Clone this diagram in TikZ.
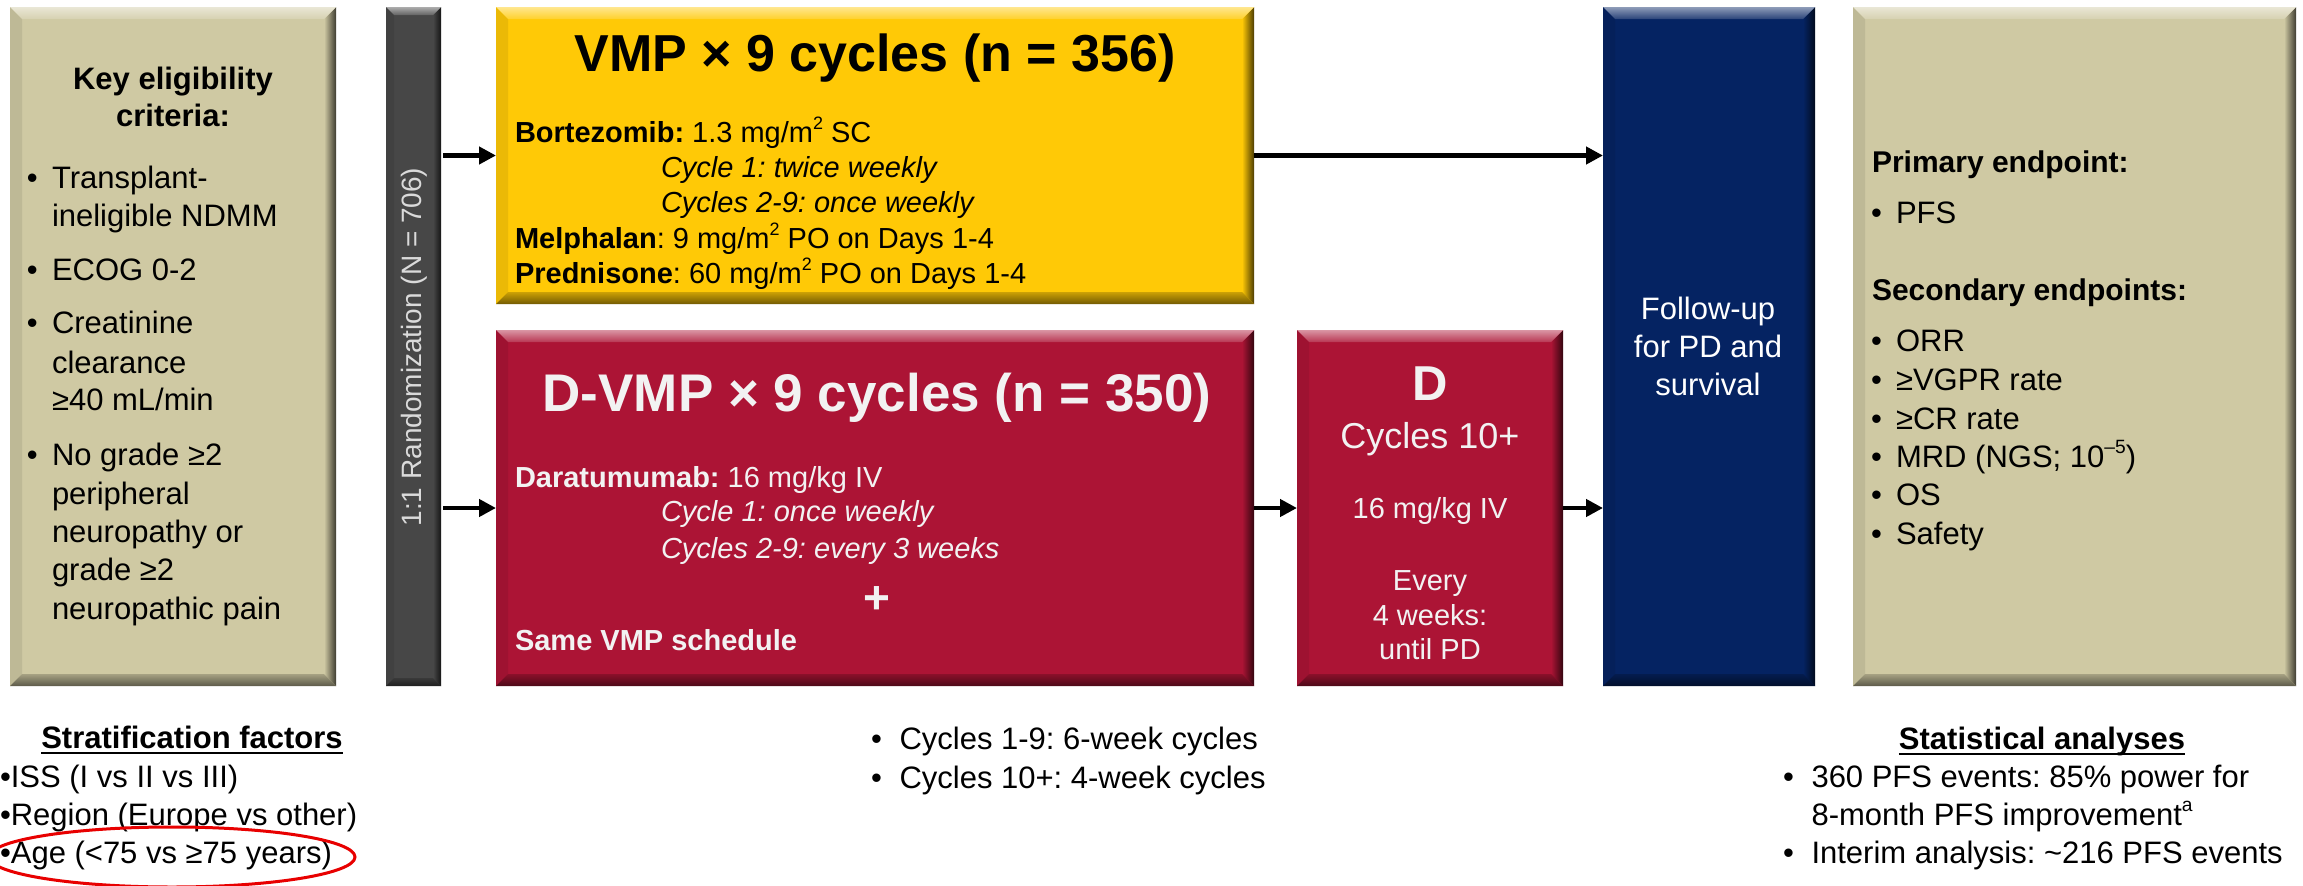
\documentclass[tikz,border=0pt]{standalone}
\usepackage{fontspec}
\setmainfont{Liberation Sans}
\usetikzlibrary{arrows.meta,calc}
\definecolor{tanbox}{HTML}{CFC9A3}
\definecolor{yelbox}{HTML}{FFC906}
\definecolor{redbox}{HTML}{AC1435}
\definecolor{bluebox}{HTML}{052362}
\definecolor{graybar}{HTML}{474747}
\definecolor{lighttext}{HTML}{F2F2F2}
\definecolor{randtext}{HTML}{DADADA}
\definecolor{ringred}{HTML}{E80000}
\newcommand\supr[1]{\raisebox{0.42em}{\scalebox{0.62}{#1}}}
\newcommand\fs[1]{\fontsize{#1}{#1}\selectfont}
\frenchspacing
% bevel: node, colour, size
\newcommand\bevel[3]{%
  \fill[#2!92!black] (#1.north west) -- ([xshift=#3pt,yshift=-#3pt]#1.north west) -- ([xshift=#3pt,yshift=#3pt]#1.south west) -- (#1.south west) -- cycle;
  \shade[left color=#2, right color=#2!30!black] (#1.north east) -- ([xshift=-#3pt,yshift=-#3pt]#1.north east) -- ([xshift=-#3pt,yshift=#3pt]#1.south east) -- (#1.south east) -- cycle;
  \shade[top color=#2!80!black, bottom color=#2!45!black] (#1.south west) -- ([xshift=#3pt,yshift=#3pt]#1.south west) -- ([xshift=-#3pt,yshift=#3pt]#1.south east) -- (#1.south east) -- cycle;
  \shade[top color=#2!45!white, bottom color=#2!85!white] (#1.north west) -- ([xshift=#3pt,yshift=-#3pt]#1.north west) -- ([xshift=-#3pt,yshift=-#3pt]#1.north east) -- (#1.north east) -- cycle;
}
\tikzset{
  box/.style={rectangle, draw=none, inner sep=0pt, outer sep=0pt, anchor=north west},
  txt/.style={inner sep=0pt, outer sep=0pt, anchor=base west},
  ctxt/.style={inner sep=0pt, outer sep=0pt, anchor=base},
  arr/.style={line width=4.5pt, -{Triangle[length=17pt,width=17pt]}},
  body/.style={font=\fs{29}},
  side/.style={font=\fs{31}},
}
\begin{document}
\begin{tikzpicture}[x=1pt,y=-1pt]
\useasboundingbox (0,0) rectangle (2303,886);
\fill[white] (0,0) rectangle (2303,886);

% boxes
\node[box, fill=tanbox, minimum width=326pt, minimum height=679pt] (elig) at (10,7) {};
\node[box, fill=graybar, minimum width=55pt, minimum height=679pt] (rand) at (386,7) {};
\node[box, fill=yelbox, minimum width=758pt, minimum height=297pt] (vmp) at (496,7) {};
\node[box, fill=redbox, minimum width=758pt, minimum height=356pt] (dvmp) at (496,330) {};
\node[box, fill=redbox, minimum width=266pt, minimum height=356pt] (dbox) at (1297,330) {};
\node[box, fill=bluebox, minimum width=212pt, minimum height=679pt] (fu) at (1603,7) {};
\node[box, fill=tanbox, minimum width=443pt, minimum height=679pt] (ends) at (1853,7) {};

\bevel{elig}{tanbox}{12}
\bevel{rand}{graybar}{8}
\bevel{vmp}{yelbox}{12}
\bevel{dvmp}{redbox}{12}
\bevel{dbox}{redbox}{12}
\bevel{fu}{bluebox}{12}
\bevel{ends}{tanbox}{12}

% arrows
\draw[arr, shorten <=2pt] (rand.east |- vmp.west) -- (vmp.west);
\draw[arr, shorten <=2pt] (rand.east |- dvmp.west) -- (dvmp.west);
\draw[arr] (vmp.east) -- (vmp.east -| fu.west);
\draw[arr] (dvmp.east) -- (dbox.west);
\draw[arr] (dbox.east) -- (dbox.east -| fu.west);

% eligibility
\node[ctxt, font=\bfseries\fs{31}] (k1) at (173,89) {Key eligibility};
\node[ctxt, font=\bfseries\fs{31}] (k2) at (173,126) {criteria:};
\foreach \yy/\tt in {188/{Transplant-}, 226/{ineligible NDMM}, 280/{ECOG 0-2}, 333/{Creatinine}, 373/{clearance}, 410/{≥40 mL/min}, 465/{No grade ≥2}, 504/{peripheral}, 542/{neuropathy or}, 580/{grade ≥2}, 619/{neuropathic pain}}
  \node[txt, side] (e\yy) at (52,\yy) {\tt};
\foreach \yy in {188,280,333,465}
  \node[txt, side] (eb\yy) at (27,\yy) {•};

% randomization
\node[rotate=90, inner sep=0pt, font=\fs{28}, text=randtext] (rt) at (414,347) {1:1 Randomization (N = 706)};

% VMP
\node[ctxt, font=\bfseries\fs{52}] (vt) at (875,71) {VMP × 9 cycles (n = 356)};
\node[txt, body] (v1) at (515,142) {\textbf{Bortezomib:} 1.3 mg/m\supr{2} SC};
\node[txt, body] (v2) at (661,177) {\textit{Cycle 1: twice weekly}};
\node[txt, body] (v3) at (661,212) {\textit{Cycles 2-9: once weekly}};
\node[txt, body] (v4) at (515,248) {\textbf{Melphalan}: 9 mg/m\supr{2} PO on Days 1-4};
\node[txt, body] (v5) at (515,283) {\textbf{Prednisone}: 60 mg/m\supr{2} PO on Days 1-4};

% D-VMP
\node[ctxt, font=\bfseries\fs{53}, text=lighttext] (dt) at (877,411) {D-VMP × 9 cycles (n = 350)};
\node[txt, body, text=lighttext] (d1) at (515,487) {\textbf{Daratumumab:} 16 mg/kg IV};
\node[txt, body, text=lighttext] (d2) at (661,521) {\textit{Cycle 1: once weekly}};
\node[txt, body, text=lighttext] (d3) at (661,558) {\textit{Cycles 2-9: every 3 weeks}};
\node[inner sep=0pt, font=\bfseries\fs{46}, text=lighttext] (dp) at (877,600) {+};
\node[txt, body, text=lighttext] (d4) at (515,650) {\textbf{Same VMP schedule}};

% D box
\node[ctxt, font=\bfseries\fs{49}, text=lighttext] (db1) at (1430,400) {D};
\node[ctxt, font=\fs{36}, text=lighttext] (db2) at (1430,448) {Cycles 10+};
\node[ctxt, body, text=lighttext] (db3) at (1430,518) {16 mg/kg IV};
\node[ctxt, body, text=lighttext] (db4) at (1430,590) {Every};
\node[ctxt, body, text=lighttext] (db5) at (1430,625) {4 weeks:};
\node[ctxt, body, text=lighttext] (db6) at (1430,659) {until PD};

% follow-up
\node[ctxt, side, text=white] (f1) at (1708,319) {Follow-up};
\node[ctxt, side, text=white] (f2) at (1708,357) {for PD and};
\node[ctxt, side, text=white] (f3) at (1708,395) {survival};

% endpoints
\node[txt, font=\bfseries\fs{30}] (p0) at (1872,172) {Primary endpoint:};
\node[txt, font=\bfseries\fs{30}] (s0) at (1872,300) {Secondary endpoints:};
\foreach \yy/\tt in {223/{PFS}, 351/{ORR}, 390/{≥VGPR rate}, 429/{≥CR rate}, 467/{MRD (NGS; 10\supr{–5})}, 505/{OS}, 544/{Safety}}{
  \node[txt, side] (r\yy) at (1896,\yy) {\tt};
  \node[txt, side] (rb\yy) at (1871,\yy) {•};
}

% bottom left
\node[ctxt, font=\bfseries\fs{31}] (sf) at (192,748) {Stratification factors};
\draw[line width=2.6pt] ([yshift=-5pt]sf.base west) -- ([yshift=-5pt]sf.base east);
\node[txt, side] (sf1) at (0,787) {•ISS (I vs II vs III)};
\node[txt, side] (sf2) at (0,825) {•Region (Europe vs other)};
\node[txt, side] (sf3) at (0,863) {•Age (<75 vs ≥75 years)};
\draw[ringred, line width=3pt] (172,857) ellipse [x radius=183, y radius=30];

% bottom middle
\node[txt, side] (cb1) at (871,749) {•};
\node[txt, side] (c1) at (899.5,749) {Cycles 1-9: 6-week cycles};
\node[txt, side] (cb2) at (871,788) {•};
\node[txt, side] (c2) at (899.5,788) {Cycles 10+: 4-week cycles};

% bottom right
\node[ctxt, font=\bfseries\fs{31}] (sa) at (2042,749) {Statistical analyses};
\draw[line width=2.6pt] ([yshift=-5pt]sa.base west) -- ([yshift=-5pt]sa.base east);
\node[txt, side] (sab1) at (1783,787) {•};
\node[txt, side] (sa1) at (1811.5,787) {360 PFS events: 85\% power for};
\node[txt, side] (sa2) at (1811.5,825) {8-month PFS improvement\supr{a}};
\node[txt, side] (sab3) at (1783,863) {•};
\node[txt, side] (sa3) at (1811.5,863) {Interim analysis: \textasciitilde216 PFS events};
\end{tikzpicture}
\end{document}
